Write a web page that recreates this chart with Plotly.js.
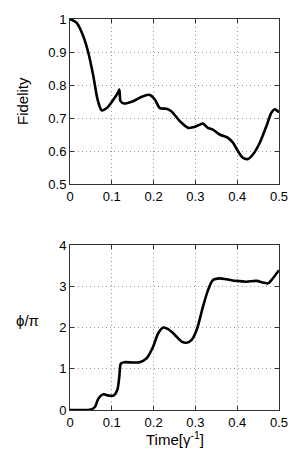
<!DOCTYPE html>
<html><head><meta charset="utf-8">
<script src="https://cdn.plot.ly/plotly-3.0.1.min.js"></script>
<style>html,body{margin:0;padding:0;background:#fff;}#chart{width:292px;height:452px;}</style>
</head><body><div id="chart"></div>
<script>
const timeF = [0,0.016,0.032,0.044,0.056,0.066,0.076,0.088,0.104,0.115,0.118,0.121,0.129,0.151,0.175,0.191,0.203,0.215,0.231,0.243,0.263,0.283,0.295,0.311,0.318,0.330,0.342,0.358,0.378,0.390,0.402,0.414,0.426,0.438,0.454,0.470,0.482,0.490,0.500];
const fidelity = [1.0,0.988,0.947,0.897,0.826,0.756,0.723,0.730,0.756,0.778,0.786,0.751,0.744,0.751,0.766,0.770,0.756,0.730,0.728,0.720,0.690,0.670,0.672,0.680,0.683,0.670,0.665,0.650,0.640,0.625,0.599,0.579,0.576,0.590,0.625,0.676,0.717,0.726,0.717];
const timeP = [0,0.02,0.04,0.05,0.06,0.068,0.08,0.092,0.104,0.113,0.118,0.122,0.131,0.151,0.167,0.183,0.199,0.211,0.223,0.235,0.251,0.267,0.279,0.291,0.303,0.318,0.330,0.342,0.358,0.374,0.398,0.422,0.446,0.462,0.474,0.482,0.500];
const phase = [0,0,0,0.01,0.08,0.28,0.38,0.35,0.35,0.48,0.81,1.13,1.16,1.15,1.16,1.25,1.54,1.86,2.0,1.96,1.82,1.66,1.63,1.70,1.94,2.5,2.9,3.15,3.19,3.17,3.13,3.11,3.13,3.09,3.07,3.15,3.39];
const xTicks = [0,0.1,0.2,0.3,0.4,0.5];
const xTickText = ['0','0.1','0.2','0.3','0.4','0.5'];
const fTicks = [0.5,0.6,0.7,0.8,0.9,1];
const fTickText = ['0.5','0.6','0.7','0.8','0.9','1'];
const pTicks = [0,1,2,3,4];

const fam = '"Liberation Sans", Arial, sans-serif';
const font = {family:fam, size:13, color:'#000'};
const titleFont = {family:fam, size:15, color:'#000'};
const axBase = {
  showline:true, linecolor:'#333', linewidth:1, mirror:'ticks',
  ticks:'inside', ticklen:4, tickcolor:'#333',
  showgrid:true, gridcolor:'#999', griddash:'1px,3px', gridwidth:1,
  zeroline:false, tickfont:font, fixedrange:true
};
const traces = [
  {x:timeF, y:fidelity, mode:'lines', line:{color:'#000', width:2.6, shape:'spline', smoothing:0.8}, xaxis:'x', yaxis:'y', hoverinfo:'skip'},
  {x:timeP, y:phase, mode:'lines', line:{color:'#000', width:2.6, shape:'spline', smoothing:0.8}, xaxis:'x2', yaxis:'y2', hoverinfo:'skip'}
];
const layout = {
  width:292, height:452, margin:{l:0,r:0,t:0,b:0},
  paper_bgcolor:'#fff', plot_bgcolor:'#fff', showlegend:false, font:font,
  xaxis:Object.assign({}, axBase, {domain:[70/292,279/292], range:[0,0.5], tickvals:xTicks, ticktext:xTickText, anchor:'y'}),
  yaxis:Object.assign({}, axBase, {domain:[268/452,433/452], range:[0.5,1], tickvals:fTicks, ticktext:fTickText, anchor:'x'}),
  xaxis2:Object.assign({}, axBase, {domain:[70/292,279/292], range:[0,0.5], tickvals:xTicks, ticktext:xTickText, anchor:'y2'}),
  yaxis2:Object.assign({}, axBase, {domain:[42/452,207/452], range:[0,4], tickvals:pTicks, anchor:'x2'}),
  annotations:[
    {text:'Fidelity', xref:'paper', yref:'paper', x:23/292, y:(452-101)/452, textangle:-90, showarrow:false, font:titleFont, xanchor:'center', yanchor:'middle'},
    {text:'ϕ/π', xref:'paper', yref:'paper', x:27/292, y:(452-320)/452, showarrow:false, font:titleFont, xanchor:'center', yanchor:'middle'},
    {text:'Time[γ<sup>-1</sup>]', xref:'paper', yref:'paper', x:175/292, y:(452-450)/452, showarrow:false, font:titleFont, xanchor:'center', yanchor:'bottom'}
  ]
};
Plotly.newPlot('chart', traces, layout, {staticPlot:true, displayModeBar:false});
</script></body></html>
